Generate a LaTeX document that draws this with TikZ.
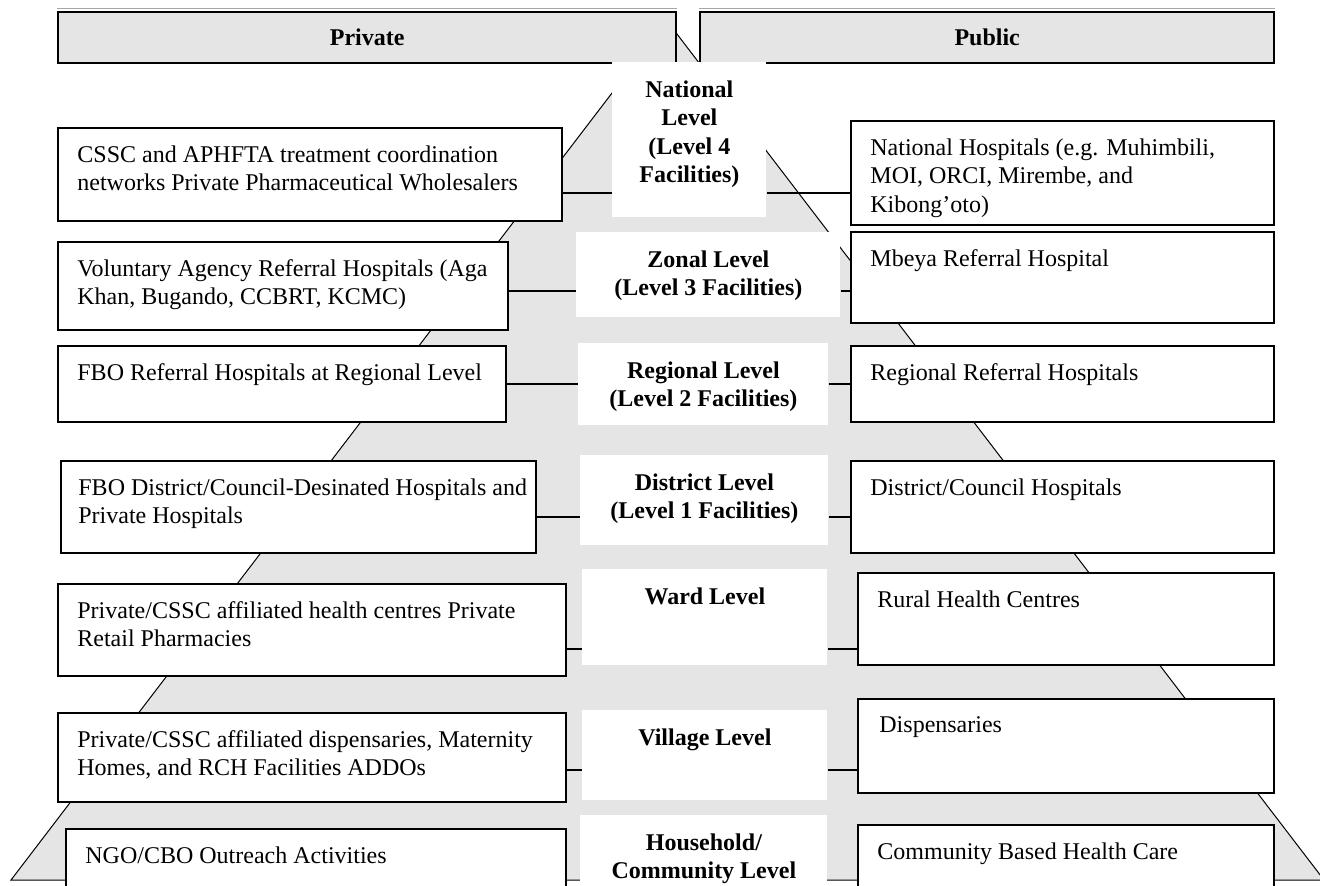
\documentclass[tikz,border=0pt]{standalone}
\usepackage{fontspec}
\setmainfont{Liberation Serif}
\usetikzlibrary{positioning}

\begin{document}
\begin{tikzpicture}[
      x=0.5pt, y=-0.5pt,
      font=\fontsize{12}{14.3}\selectfont,
      pyramid/.style={draw, line width=0.5pt, fill=gray!20},
      header/.style={rectangle, draw, line width=1.2pt, fill=gray!20, anchor=north west, font=\fontsize{12}{14.3}\selectfont\bfseries},
      bevel/.style={draw=gray!70, line width=0.6pt},
      tier/.style={rectangle, draw, line width=1pt, fill=white, anchor=north west, inner sep=0pt},
      level/.style={rectangle, fill=white, anchor=north west, inner sep=0pt},
      tiertext/.style={inner sep=0pt, align=left},
      leveltext/.style={inner sep=0pt, align=center, font=\fontsize{12}{14.3}\selectfont\bfseries},
      link/.style={line width=0.6pt}
  ]
      \useasboundingbox (0,0) rectangle (1320,886);

      % Pyramid in the background
      \draw[pyramid] (667,21) -- (11,880) -- (1324,880) -- cycle;

      % Header bars
      \node[header, minimum width=309pt, minimum height=25.5pt] (prv) at (57,11) {Private};
      \node[header, minimum width=287pt, minimum height=25.5pt] (pub) at (699,11) {Public};
      \draw[bevel] ([yshift=1.1pt]prv.north west) -- ([yshift=1.1pt]prv.north east);
      \draw[bevel] ([yshift=1.1pt]pub.north west) -- ([yshift=1.1pt]pub.north east);

      % Row heights of the connectors
      \coordinate (k1) at (0,193);
      \coordinate (k2) at (0,291);
      \coordinate (k3) at (0,384);
      \coordinate (k4) at (0,517);
      \coordinate (k5) at (0,649);
      \coordinate (k6) at (0,770);

      % National level
      \node[tier, minimum width=252pt, minimum height=46.5pt] (l1) at (57,127) {};
      \node[tiertext, below right=9pt and 10pt of l1.north west] (l1t) {CSSC and APHFTA treatment coordination\\networks Private Pharmaceutical Wholesalers};
      \node[level, minimum width=77pt, minimum height=77.5pt] (c1) at (612,62) {};
      \node[leveltext, below=9pt of c1.north] (c1t) {National\\Level\\(Level 4\\Facilities)};
      \node[tier, minimum width=211.5pt, minimum height=52pt] (r1) at (850,120) {};
      \node[tiertext, below right=9pt and 10pt of r1.north west] (r1t) {National Hospitals (e.g. Muhimbili,\\MOI, ORCI, Mirembe, and\\Kibong’oto)};

      % Zonal level
      \node[tier, minimum width=225pt, minimum height=44pt] (l2) at (57,241) {};
      \node[tiertext, below right=9pt and 10pt of l2.north west] (l2t) {Voluntary Agency Referral Hospitals (Aga\\Khan, Bugando, CCBRT, KCMC)};
      \node[level, minimum width=132pt, minimum height=42.5pt] (c2) at (576,232) {};
      \node[leveltext, below=9pt of c2.north] (c2t) {Zonal Level\\(Level 3 Facilities)};
      \node[tier, minimum width=211.5pt, minimum height=45.5pt] (r2) at (850,231) {};
      \node[tiertext, below right=9pt and 10pt of r2.north west] (r2t) {Mbeya Referral Hospital};

      % Regional level
      \node[tier, minimum width=224pt, minimum height=38pt] (l3) at (57,345) {};
      \node[tiertext, below right=9pt and 10pt of l3.north west] (l3t) {FBO Referral Hospitals at Regional Level};
      \node[level, minimum width=125pt, minimum height=41pt] (c3) at (578,343) {};
      \node[leveltext, below=9pt of c3.north] (c3t) {Regional Level\\(Level 2 Facilities)};
      \node[tier, minimum width=211.5pt, minimum height=38pt] (r3) at (850,345) {};
      \node[tiertext, below right=9pt and 10pt of r3.north west] (r3t) {Regional Referral Hospitals};

      % District level
      \node[tier, minimum width=237.5pt, minimum height=46pt] (l4) at (60,460) {};
      \node[tiertext, below right=9pt and 9pt of l4.north west] (l4t) {FBO District/Council-Desinated Hospitals and\\Private Hospitals};
      \node[level, minimum width=124pt, minimum height=45pt] (c4) at (580,455) {};
      \node[leveltext, below=9pt of c4.north] (c4t) {District Level\\(Level 1 Facilities)};
      \node[tier, minimum width=211.5pt, minimum height=46pt] (r4) at (850,460) {};
      \node[tiertext, below right=9pt and 10pt of r4.north west] (r4t) {District/Council Hospitals};

      % Ward level
      \node[tier, minimum width=254pt, minimum height=46pt] (l5) at (57,583) {};
      \node[tiertext, below right=9pt and 10pt of l5.north west] (l5t) {Private/CSSC affiliated health centres Private\\Retail Pharmacies};
      \node[level, minimum width=122.5pt, minimum height=48pt] (c5) at (582,569) {};
      \node[leveltext, below=9pt of c5.north] (c5t) {Ward Level};
      \node[tier, minimum width=208pt, minimum height=46pt] (r5) at (857,572) {};
      \node[tiertext, below right=9pt and 10pt of r5.north west] (r5t) {Rural Health Centres};

      % Village level
      \node[tier, minimum width=254pt, minimum height=44.5pt] (l6) at (57,712) {};
      \node[tiertext, below right=9pt and 10pt of l6.north west] (l6t) {Private/CSSC affiliated dispensaries, Maternity\\Homes, and RCH Facilities ADDOs};
      \node[level, minimum width=122.5pt, minimum height=45pt] (c6) at (582,710) {};
      \node[leveltext, below=9pt of c6.north] (c6t) {Village Level};
      \node[tier, minimum width=208pt, minimum height=47pt] (r6) at (857,698) {};
      \node[tiertext, below right=9pt and 11pt of r6.north west] (r6t) {Dispensaries};

      % Household / community level
      \node[tier, minimum width=250pt, minimum height=36pt] (l7) at (65,828) {};
      \node[tiertext, below right=9pt and 10pt of l7.north west] (l7t) {NGO/CBO Outreach Activities};
      \node[level, minimum width=123.5pt, minimum height=42.5pt] (c7) at (580,815) {};
      \node[leveltext, below=9pt of c7.north] (c7t) {Household/\\Community Level};
      \node[tier, minimum width=208pt, minimum height=38pt] (r7) at (857,824) {};
      \node[tiertext, below right=9pt and 10pt of r7.north west] (r7t) {Community Based Health Care};

      % Connectors
      \draw[link] (l1.east |- k1) -- (c1.west |- k1);
      \draw[link] (c1.east |- k1) -- (r1.west |- k1);
      \draw[link] (l2.east |- k2) -- (c2.west |- k2);
      \draw[link] (c2.east |- k2) -- (r2.west |- k2);
      \draw[link] (l3.east |- k3) -- (c3.west |- k3);
      \draw[link] (c3.east |- k3) -- (r3.west |- k3);
      \draw[link] (l4.east |- k4) -- (c4.west |- k4);
      \draw[link] (c4.east |- k4) -- (r4.west |- k4);
      \draw[link] (l5.east |- k5) -- (c5.west |- k5);
      \draw[link] (c5.east |- k5) -- (r5.west |- k5);
      \draw[link] (l6.east |- k6) -- (c6.west |- k6);
      \draw[link] (c6.east |- k6) -- (r6.west |- k6);
  \end{tikzpicture}
\end{document}
